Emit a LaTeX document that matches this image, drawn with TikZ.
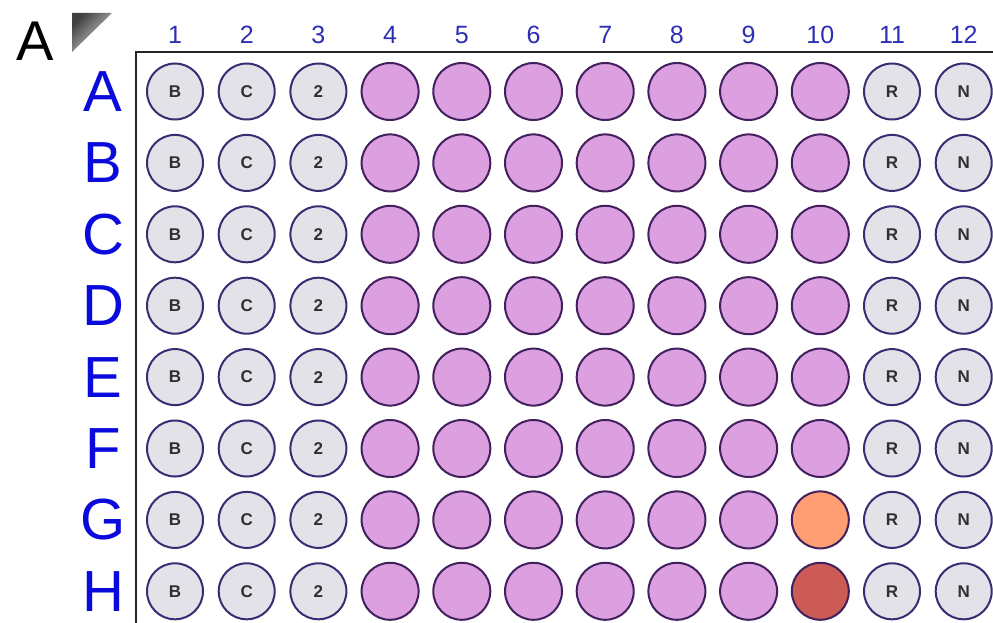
\documentclass[tikz,border=0pt]{standalone}
\usepackage{fontspec}
\setmainfont{Liberation Sans}
\usetikzlibrary{shadings}
\definecolor{rowblue}{HTML}{0A0ADC}
\definecolor{colblue}{HTML}{2E2EB4}
\definecolor{wellgray}{HTML}{E2E2E8}
\definecolor{wellpink}{HTML}{DCA0E0}
\definecolor{wellline}{HTML}{3A2C72}
\definecolor{pinkline}{HTML}{42205E}
\definecolor{salmon}{HTML}{FF9E72}
\definecolor{redwell}{HTML}{CC5A55}
\definecolor{txtgray}{HTML}{303030}
\tikzset{
  graywell/.style={circle, draw=wellline, line width=2pt, fill=wellgray, minimum size=56pt, inner sep=0pt,
    font=\fontsize{17}{17}\selectfont\bfseries, text=txtgray},
  pinkwell/.style={circle, draw=pinkline, line width=2pt, fill=wellpink, minimum size=57pt, inner sep=0pt},
  rowlab/.style={font=\fontsize{58}{58}\selectfont, text=rowblue, inner sep=0pt},
  collab/.style={font=\fontsize{25}{25}\selectfont, text=colblue, inner sep=0pt},
}
\begin{document}
\begin{tikzpicture}[x=1pt,y=-1pt]
\useasboundingbox (0,0) rectangle (993,623);
\fill[white] (0,0) rectangle (993,623);
% panel label
\node[font=\fontsize{56}{56}\selectfont, inner sep=0pt] (panel) at (35,41) {A};
% corner triangle
\shade[left color=black!75, right color=black!15, shading angle=45] (72,13) -- (112,13) -- (72,52) -- cycle;
% frame
\coordinate (fc) at (136,52);
\coordinate (fr) at (993,52);
\coordinate (fb) at (136,623);
\draw[line width=2pt, black!85] (fr) -- (fc) -- (fb);
% column labels
\foreach \c in {1,...,12} {
  \node[collab] (col\c) at ({175+(\c-1)*71.7},35) {\c};
}
% rows
\foreach \r/\L [count=\i from 0] in {A/A,B/B,C/C,D/D,E/E,F/F,G/G,H/H} {
  \pgfmathsetmacro{\yy}{91.5+\i*71.4}
  \node[rowlab] (row\L) at (103,\yy) {\L};
  \node[graywell] (w\L1) at (175,\yy) {B};
  \node[graywell] (w\L2) at ({175+71.7},\yy) {C};
  \node[graywell] (w\L3) at ({175+2*71.7},\yy) {2};
  \foreach \c in {4,...,9} {
    \node[pinkwell] (w\L\c) at ({175+(\c-1)*71.7},\yy) {};
  }
  \node[graywell] (w\L11) at ({175+10*71.7},\yy) {R};
  \node[graywell] (w\L12) at ({175+11*71.7},\yy) {N};
}
\foreach \L/\yy in {A/91.5,B/162.9,C/234.3,D/305.7,E/377.1,F/448.5} {
  \node[pinkwell] (w\L10) at ({175+9*71.7},\yy) {};
}
\node[pinkwell, fill=salmon] (wG10) at ({175+9*71.7},{91.5+6*71.4}) {};
\node[pinkwell, fill=redwell] (wH10) at ({175+9*71.7},{91.5+7*71.4}) {};
\end{tikzpicture}
\end{document}
